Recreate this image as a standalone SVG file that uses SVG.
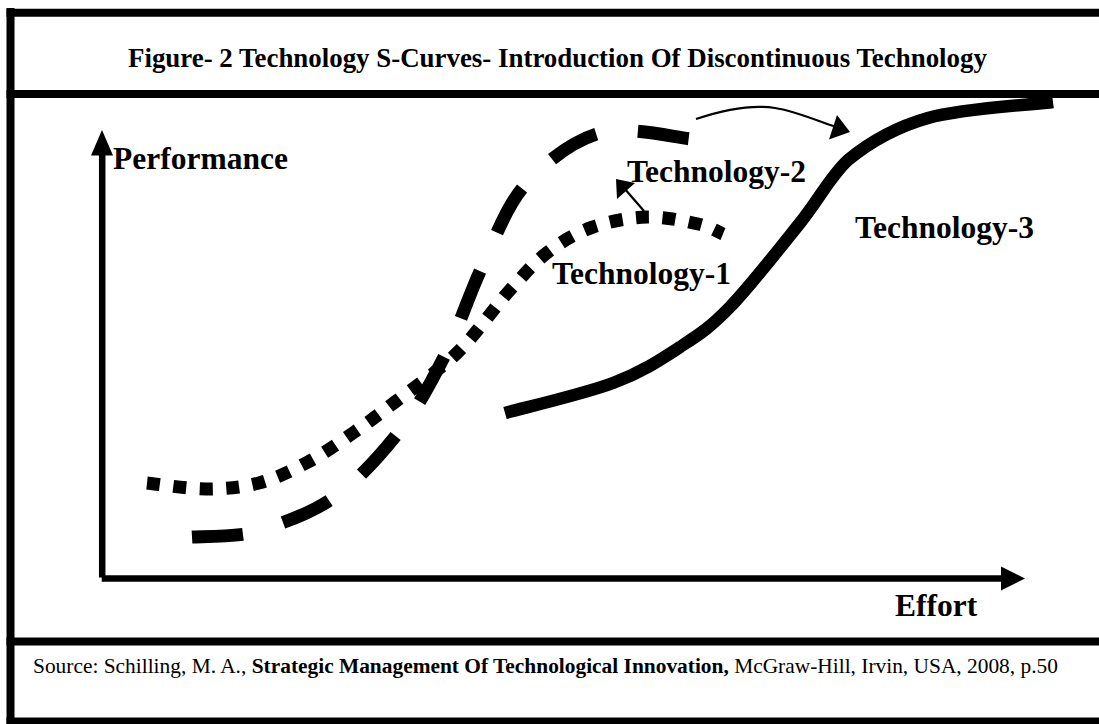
<svg xmlns="http://www.w3.org/2000/svg" width="1099" height="724" viewBox="0 0 1099 724">
<style>
.frame{stroke:#000;stroke-width:8;fill:none}
.axis{stroke:#000;stroke-width:6.5;fill:none}
.lbl{font-family:"Liberation Serif","Times New Roman",serif;font-weight:bold;font-size:31.5px;fill:#000}
.title{font-family:"Liberation Serif","Times New Roman",serif;font-weight:bold;font-size:26.9px;fill:#000}
.src{font-family:"Liberation Serif","Times New Roman",serif;font-size:21.4px;fill:#000}
.t1{stroke:#000;stroke-width:13;fill:none;stroke-dasharray:13 13.5;stroke-linecap:butt}
.t2{stroke:#000;stroke-width:13;fill:none;stroke-dasharray:51 42;stroke-linecap:butt}
.t3{stroke:#000;stroke-width:12.5;fill:none;stroke-linecap:butt}
.thin{stroke:#000;stroke-width:2.2;fill:none}
.head{fill:#000;stroke:none}
</style>
<rect width="1099" height="724" fill="#fff"/>
<g id="frame">
<line class="frame" x1="10.5" y1="8" x2="10.5" y2="724"/>
<line class="frame" x1="6.5" y1="12.7" x2="1099" y2="12.7" stroke-width="8.5"/>
<line class="frame" x1="6.5" y1="94" x2="1099" y2="94"/>
<line class="frame" x1="6.5" y1="641.5" x2="1099" y2="641.5" stroke-width="7.5"/>
<line class="frame" x1="6.5" y1="721.5" x2="1099" y2="721.5"/>
</g>
<g id="title">
<text class="title" x="128" y="67">Figure- 2 Technology S-Curves- Introduction Of Discontinuous Technology</text>
</g>
<g id="axes">
<line class="axis" x1="102.2" y1="577.5" x2="102.2" y2="152"/>
<polygon class="head" points="102,130 113,155.5 91,155.5"/>
<line class="axis" x1="101.7" y1="578.5" x2="1003" y2="578.5"/>
<polygon class="head" points="1025,578.5 1001,566.5 1001,590.5"/>
</g>
<g id="label-performance"><text class="lbl" x="113" y="169">Performance</text></g>
<g id="label-effort"><text class="lbl" x="895" y="616">Effort</text></g>
<g id="tech1">
<path class="t1" d="M147,483 C156.8,484 187.3,489 206,489 C224.7,489 242,487.5 259,483 C276,478.5 292.3,470.3 308,462 C323.7,453.7 338.5,443 353,433 C367.5,423 377.7,415.3 395,402 C412.3,388.7 437.8,371.7 457,353 C476.2,334.3 494.8,306.8 510,290 C525.2,273.2 534.2,262.5 548,252 C561.8,241.5 576.5,232.8 593,227 C609.5,221.2 629.5,217.5 647,217 C664.5,216.5 685.3,221.2 698,224 C710.7,226.8 718.8,232.3 723,234"/>
<text class="lbl" x="552" y="284">Technology-1</text>
</g>
<g id="tech2">
<path class="t2" d="M192,537 C201,536.5 225,537 246,534 C269,527.8 304.7,516.8 330,500 C355.3,483.2 378.8,457.2 398,433 C417.2,408.8 431,382.7 445,355 C459,327.3 468.7,295.3 482,267 C495.3,238.7 505.3,207.3 525,185 C544.7,162.7 572.2,140.7 600,133 C627.8,125.3 676.7,138 692,139"/>
<text class="lbl" x="627" y="182">Technology-2</text>
</g>
<g id="tech3">
<path class="t3" d="M505,413 C523,408 583.8,394 613,383 C642.2,372 660.5,359.7 680,347 C699.5,334.3 710,327.7 730,307 C750,286.3 780.3,247.5 800,223 C819.7,198.5 830.5,176 848,160 C869.3,142.5 893.8,127.7 928,118 C962.2,108.3 1032,104.7 1053,102"/>
<text class="lbl" x="855" y="238">Technology-3</text>
</g>
<g id="connectors">
<path class="thin" d="M696,119 C720,111 750,104 775,108 C795,111 815,120 836,127"/>
<polygon class="head" points="850,132 829,139.5 837,115"/>
<line class="thin" x1="644" y1="211" x2="624" y2="188"/>
<polygon class="head" points="616,179 617,199 635,183"/>
</g>
<g id="source">
<text class="src" x="33" y="673">Source: Schilling, M. A., <tspan font-weight="bold">Strategic Management Of Technological Innovation,</tspan> McGraw-Hill, Irvin, USA, 2008, p.50</text>
</g>
</svg>
